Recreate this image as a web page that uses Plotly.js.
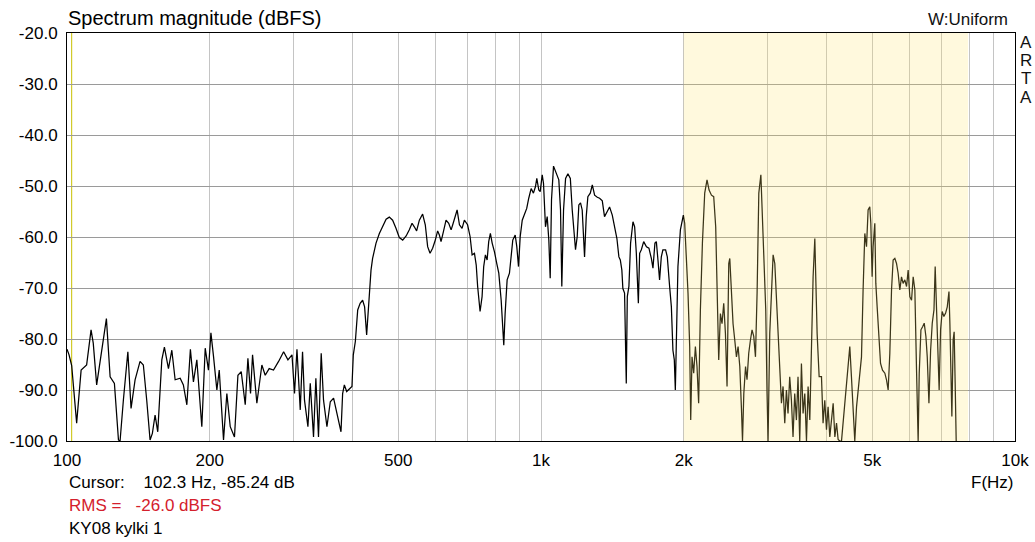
<!DOCTYPE html>
<html>
<head>
<meta charset="utf-8">
<script src="https://cdn.plot.ly/plotly-3.0.1.min.js"></script>
<style>
html,body{margin:0;padding:0;background:#fff;}
#chart{width:1035px;height:542px;}
</style>
</head>
<body>
<div id="chart"></div>
<script>
// Frequencies (Hz)
const freqHz = [
100,101,102.3,103.5,104.8,107.1,110,112.4,113.6,115.5,117.4,119.3,121.1,123.3,125.9,128.4,129.4,131.5,134.4,136.5,
139.2,142.6,144.9,147.3,149.7,151.4,153.4,155.4,158.5,160.5,163.7,166.4,169.1,173.3,176,179,182.1,184.8,187.9,192.5,
195.7,198.8,201.2,203.8,207.1,209.5,213.9,217.4,221,225.6,229.4,233.1,237.7,240.8,243.9,246.3,251.5,257.7,261.9,267,
272.7,279.5,286.4,292.5,298.3,302,305.6,310.5,314,317,322.3,326,331.2,335,339.3,343.8,347.7,353.5,359.3,365.1,371.2,
378.5,381.5,384.7,389.1,394,399.2,401.8,405.8,410.5,415.4,420.4,424.5,428.7,432.9,437.9,441.3,448.7,456,463.4,471.2,
478.6,486.4,494.4,502.4,510.8,519.4,527.5,534.5,540.4,546.5,553.8,562.7,570,576.6,583.3,590.7,598.5,605.3,610.3,615.3,
622.3,630.5,638.7,646.2,651.3,659.9,665.3,672.9,681.5,689.2,700,708.6,715.6,723.8,730,735.1,743.8,751.1,757,763.3,
769.7,775.7,782,788.8,797.7,806.7,814.6,824.1,830.6,834.6,840.1,848.3,857.9,865.1,871.9,882.2,889.1,896.5,904,912.9,
922.6,933,942.2,953.2,963.9,973.6,
979.8,989.3,996.1,1005.9,1012.3,1022,1030.6,1038.7,1045.7,1052.4,1062.7,1076.7,1090.4,1099.5,1106.4,1115.7,1126.8,1139.7,1153.2,1163.8,
1172.7,1182.5,1192.4,1201.8,1211.7,1221.6,1235.6,1245.8,1255.6,1270.4,1283,1297.5,1314.6,1329.3,1346.8,1361.5,1379.6,1395.2,1413.7,1429.6,
1445.9,1460,1470,1481.1,1488.4,1500.7,1513.3,1520.8,1532.7,1545.3,1563.3,1576,1589,1604.7,1614.8,1628.1,1646.7,1669.2,1689.3,1709.3,
1722.7,1739.3,1751.2,1765,1779,1793.9,1807.9,1831.8,1847,1867.9,1883.8,1898.1,1910.9,1920.4,1929.6,1944.9,1968.2,
1996.8,2009.8,2026.5,2042.4,2059.3,2069.4,2082.6,2099.7,2117,2133.6,2150.8,2169,2190.4,2215,2240,2262.5,2288.7,2314,2336.5,2351.4,
2371,2390.6,2409.4,2429.4,2449.6,2468.9,2489.5,2502,2522.5,2542,2563.1,2584.2,2605,2626.7,2648.4,2661.5,2678.3,2700.9,2720.4,2743.1,
2766,2787.7,2810.8,2834.4,2856.8,2880.8,2909.8,2931.4,2954.7,2979.7,2998.5,3013.3,3038.2,3063.7,3088,3113.5,3138.4,3162.9,3189,3215.6,
3240.8,3267.7,3294.3,3320,3347.5,3375.3,3401.7,3429.9,3458.3,3485.3,3514.3,3543.5,3572,3601.8,3631.5,3660.2,3690.7,3721.3,3750.4,3781.7,
3800,3824.2,3861.8,
3906,3936,3969,4002,4033.5,4067,4101,4134,4168,4202,4235,4270,4305,4339,4375,4411,4445,4482,4518,4555,
4592,4631,4667,4706,4744,4781,4821,4861,4899,4939,4964,4995,5019,5061,5086,5119,5161,5204,5254,5314,
5357,5400,5444,5489,5532,5578,5624,5668,5715,5762,5807,5855,5905,5951,6000,6050,6098,6148,6198,6247,
6280,6332,6384,6434,6487,6529,6583,6637,6690,6746,6786,6831,6885,6918,6966,7021,7079,7139,7196,7256,
7288,7323,7359,7405,7441,7478,7515
];
// Spectrum magnitude (dBFS)
const levelDb = [
-82,-83.1,-85.2,-91.3,-96.5,-86.1,-85.1,-78.2,-80.8,-89,-84.8,-80.2,-76,-87.4,-88.7,-99.8,-100,-92,-82.5,-93.6,
-88,-84.4,-85.1,-92,-99.8,-98.5,-94.9,-98.2,-84.1,-81.6,-85.8,-82.2,-88,-87.7,-89,-92.9,-82,-88.4,-84.1,-97.2,
-81.8,-86.1,-78.8,-83.5,-90,-86.1,-99.8,-90.7,-97.2,-99.2,-87.1,-86.4,-92.9,-83.8,-90.7,-83.1,-92.6,-85.1,-87.1,-85.8,
-86.1,-84.4,-82.5,-84.1,-83.1,-90.7,-82,-93.9,-82.5,-92,-97.2,-88.7,-99.2,-87.7,-99.2,-82.8,-92,-97.2,-92.3,-91.6,-94.9,
-98.2,-90.7,-89,-90.3,-89.7,-89.3,-83.1,-80.5,-74.3,-73,-72.4,-73.7,-79.2,-72.4,-66.5,-64.2,-61.2,-59.3,-58,-56.5,
-56.1,-56.7,-58.3,-60.1,-60.6,-59.8,-58.6,-57.3,-58,-58.8,-56.7,-55.5,-57.6,-61.9,-63.2,-62.2,-60.6,-58.8,-59.6,-60.9,
-59,-56.7,-57.3,-58.6,-57.6,-55.7,-54.7,-57.6,-58.3,-56.7,-57.6,-59.9,-63.5,-63.2,-65.5,-69.7,-74.6,-71.7,-65.8,-63.5,
-64.5,-60.9,-59.3,-61.2,-62.9,-65.2,-67.1,-72.4,-76.9,-81.2,-75,-68.4,-67.1,-63.2,-60.6,-59.6,-61.9,-65.8,-59.9,-56.7,
-55.4,-54.4,-52.4,-50.5,-51.4,-50.1,
-48.5,-50.8,-51.1,-47.8,-49.5,-58,-56,-60.6,-68.1,-52.7,-46.1,-47.5,-48.8,-54.7,-69.7,-54.7,-48.5,-47.6,-48.5,-54.7,
-58.6,-62.5,-59.9,-53.7,-53.3,-54.7,-63.9,-56,-52.1,-51.4,-49.8,-51.8,-52.2,-52.4,-52.9,-56,-55,-54.1,-55.7,-58,
-60.3,-63.9,-64.5,-66.5,-70.1,-71,-88.7,-71.7,-69.7,-61.2,-57,-58,-63.2,-73,-63.2,-62.5,-60.9,-61.9,-62.2,-64.2,
-66.1,-61.2,-60.9,-64.5,-68.4,-63.9,-62.5,-62.5,-63.9,-69.7,-73.7,-82.2,-84.1,-90,-81.6,-65.8,-58.6,
-55.7,-57.3,-64.5,-71,-81.5,-95.9,-83.5,-86.7,-81.5,-85.4,-92.6,-74.3,-61.2,-51.4,-48.8,-50.8,-51.8,-52.1,-58,-69.7,
-84.1,-75,-77,-73,-78.9,-89.3,-65.2,-64.2,-71,-77,-80.2,-83.5,-81.5,-85.4,-93.9,-100,-90.7,-85.4,-88,-82.8,
-80.2,-78.2,-79.5,-83.5,-71,-51.4,-47.8,-55.4,-64.5,-74.3,-90.7,-100,-78.9,-71,-63.5,-65.2,-72.4,-77.6,-84.1,-92.6,
-89.3,-96.5,-90,-94.6,-87.4,-92,-99.2,-90.7,-95.9,-87.4,-100,-84.8,-94.6,-90.7,-100,-89.3,-95.9,-81.5,-67.8,-60.3,
-71,-78.9,-87.4,
-87.4,-96.5,-92,-97.8,-93.3,-99.2,-95.2,-92.6,-99.2,-96.5,-99.7,-100,-100,-96.5,-92.6,-90,-86.1,-81.5,-87.4,-93.3,
-100,-93.3,-90,-86.7,-83.5,-70.4,-59.3,-61.9,-54.7,-54.1,-57.3,-67.8,-61.9,-57.3,-69.1,-73.7,-79.5,-84.8,-86.1,-86.7,
-88,-90,-82.8,-70.4,-64.5,-64.2,-65.2,-67.1,-70.4,-67.8,-69.1,-68.4,-69.7,-66.5,-71.7,-72.4,-67.8,-70.4,-86.1,-100,
-86.7,-78.2,-77.6,-76.9,-79.5,-83.5,-92.6,-82.2,-76.9,-74.3,-65.8,-73.7,-82.2,-90,-78.2,-74.6,-75.6,-74.9,-73.7,-70.7,
-76.9,-88.7,-95.2,-80.2,-78.6,-88.7,-100
];

const xGridVals = [100,200,300,400,500,600,700,800,900,1000,2000,3000,4000,5000,6000,7000,8000,9000,10000];
const xGridText = ['100','200','','','500','','','','','1k','2k','','','5k','','','','','10k'];
const yTickVals = [-100,-90,-80,-70,-60,-50,-40,-30,-20];
const yTickText = ['-100.0','-90.0','-80.0','-70.0','-60.0','-50.0','-40.0','-30.0','-20.0'];
const bandStartHz = 2000;
const bandEndHz = 7960;
const cursorHz = 102.3;

const FONT = 'Liberation Sans, Arial, sans-serif';

const trace = {
  x: freqHz, y: levelDb, type: 'scatter', mode: 'lines',
  line: {color: '#000000', width: 1.25},
  hoverinfo: 'skip', cliponaxis: true
};

const layout = {
  width: 1035, height: 542,
  margin: {l: 67, r: 20, t: 33, b: 101, pad: 0},
  paper_bgcolor: '#ffffff', plot_bgcolor: '#ffffff',
  showlegend: false,
  font: {family: FONT, size: 17, color: '#000'},
  title: {
    text: 'Spectrum magnitude (dBFS)',
    font: {family: FONT, size: 20, color: '#000'},
    xref: 'container', yref: 'container',
    x: 68/1035, xanchor: 'left', y: 1 - 18/542, yanchor: 'middle'
  },
  xaxis: {
    type: 'log', range: [2, 4],
    tickmode: 'array', tickvals: xGridVals, ticktext: xGridText,
    showgrid: true, gridcolor: '#c4c4c4', gridwidth: 1,
    showline: true, linecolor: '#000', linewidth: 1, mirror: true,
    ticks: '', ticklabelstandoff: 4,
    tickfont: {family: FONT, size: 17, color: '#000'},
    zeroline: false, fixedrange: true
  },
  yaxis: {
    range: [-100, -20],
    tickmode: 'array', tickvals: yTickVals, ticktext: yTickText,
    showgrid: true, gridcolor: '#9a9a9a', gridwidth: 1,
    showline: true, linecolor: '#000', linewidth: 1, mirror: true,
    ticks: '', ticklabelstandoff: 5,
    tickfont: {family: FONT, size: 17, color: '#000'},
    zeroline: false, fixedrange: true
  },
  shapes: [
    {type: 'line', xref: 'x', yref: 'paper', x0: cursorHz, x1: cursorHz, y0: 0, y1: 1,
     line: {color: '#c8c000', width: 1}, layer: 'below'},
    {type: 'rect', xref: 'x', yref: 'paper', x0: bandStartHz, x1: bandEndHz, y0: 0, y1: 1,
     fillcolor: 'rgb(255,229,106)', opacity: 0.23, line: {width: 0}, layer: 'above'}
  ],
  annotations: [
    {text: 'W:Uniform', xref: 'paper', yref: 'paper', x: (1010-67)/948, y: (441-20)/408,
     xanchor: 'right', yanchor: 'middle', showarrow: false, font: {family: FONT, size: 17, color: '#111'}},
    {text: 'A', xref: 'paper', yref: 'paper', x: (1026-67)/948, y: (441-42)/408, xanchor: 'center', yanchor: 'middle', showarrow: false, font: {family: FONT, size: 17, color: '#111'}},
    {text: 'R', xref: 'paper', yref: 'paper', x: (1026-67)/948, y: (441-60.3)/408, xanchor: 'center', yanchor: 'middle', showarrow: false, font: {family: FONT, size: 17, color: '#111'}},
    {text: 'T', xref: 'paper', yref: 'paper', x: (1026-67)/948, y: (441-78.6)/408, xanchor: 'center', yanchor: 'middle', showarrow: false, font: {family: FONT, size: 17, color: '#111'}},
    {text: 'A', xref: 'paper', yref: 'paper', x: (1026-67)/948, y: (441-97)/408, xanchor: 'center', yanchor: 'middle', showarrow: false, font: {family: FONT, size: 17, color: '#111'}},
    {text: 'F(Hz)', xref: 'paper', yref: 'paper', x: (992-67)/948, y: (441-482)/408, xanchor: 'center', yanchor: 'middle', showarrow: false, font: {family: FONT, size: 17, color: '#000'}},
    {text: 'Cursor:\u00a0\u00a0\u00a0\u00a0102.3 Hz, -85.24 dB', xref: 'paper', yref: 'paper', x: 0, y: (441-482)/408, xanchor: 'left', yanchor: 'middle', showarrow: false, font: {family: FONT, size: 17, color: '#000'}},
    {text: 'RMS =\u00a0\u00a0\u00a0-26.0 dBFS', xref: 'paper', yref: 'paper', x: 0, y: (441-506)/408, xanchor: 'left', yanchor: 'middle', showarrow: false, font: {family: FONT, size: 17, color: '#d4202c'}},
    {text: 'KY08 kylki 1', xref: 'paper', yref: 'paper', x: 0, y: (441-528)/408, xanchor: 'left', yanchor: 'middle', showarrow: false, font: {family: FONT, size: 17, color: '#000'}}
  ]
};

Plotly.newPlot('chart', [trace], layout, {displayModeBar: false, staticPlot: true});
</script>
</body>
</html>
